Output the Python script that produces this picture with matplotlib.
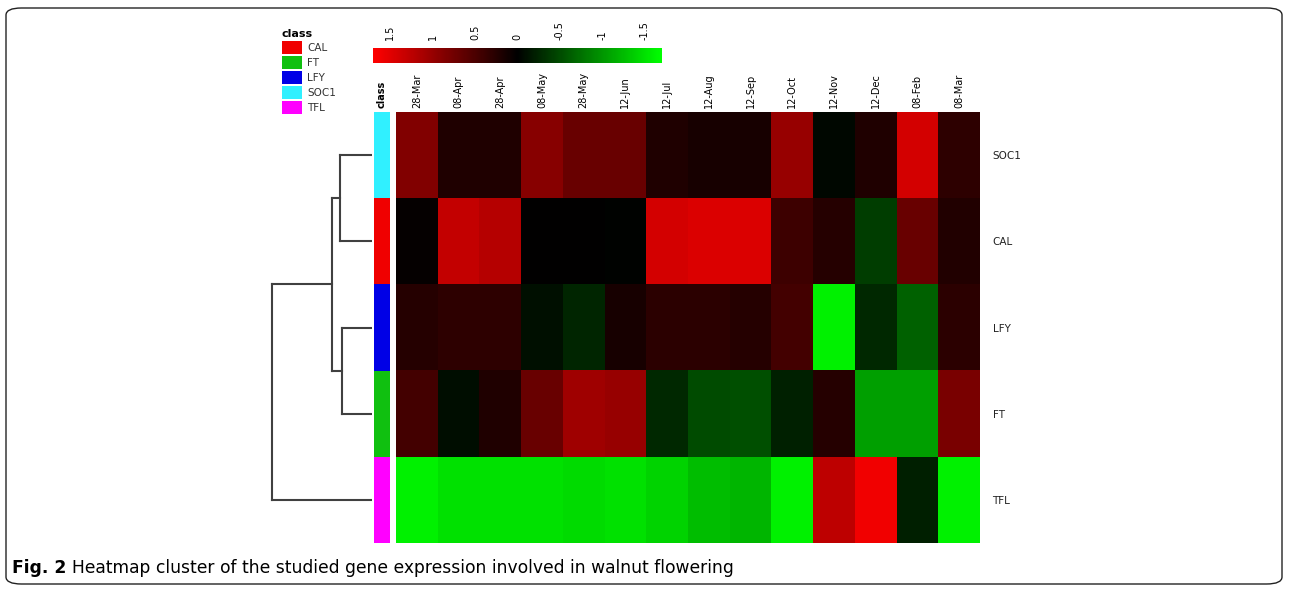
import numpy as np
import matplotlib
matplotlib.use('Agg')
import matplotlib.pyplot as plt
from matplotlib.colors import LinearSegmentedColormap
from matplotlib.patches import Rectangle, FancyBboxPatch

# data (rows already in dendrogram order)
months = ['28-Mar', '08-Apr', '28-Apr', '08-May', '28-May', '12-Jun', '12-Jul',
          '12-Aug', '12-Sep', '12-Oct', '12-Nov', '12-Dec', '08-Feb', '08-Mar']
genes = ['SOC1', 'CAL', 'LFY', 'FT', 'TFL']
soc1 = [0.85, 0.2, 0.2, 0.9, 0.7, 0.7, 0.2, 0.15, 0.15, 1.0, -0.05, 0.2, 1.4, 0.3]
cal = [0.03, 1.3, 1.2, 0.0, 0.0, -0.02, 1.4, 1.45, 1.45, 0.4, 0.25, -0.4, 0.7, 0.22]
lfy = [0.25, 0.3, 0.3, -0.1, -0.25, 0.15, 0.28, 0.28, 0.25, 0.45, -1.6, -0.27, -0.65, 0.28]
ft = [0.45, -0.08, 0.2, 0.7, 1.05, 1.0, -0.27, -0.5, -0.52, -0.22, 0.25, -1.05, -1.05, 0.8]
tfl = [-1.6, -1.5, -1.5, -1.5, -1.45, -1.5, -1.4, -1.25, -1.2, -1.6, 1.25, 1.6, -0.2, -1.6]

# class of each row
gene_class = ['SOC1', 'CAL', 'LFY', 'FT', 'TFL']
class_names = ['CAL', 'FT', 'LFY', 'SOC1', 'TFL']
class_colors = ['#f00000', '#10c010', '#0000e6', '#30f0ff', '#ff00ff']

# hierarchical merges: (a, b, height); ids >= 5 are earlier merges
linkage = [(0, 1, 0.32), (2, 3, 0.30), (5, 6, 0.40), (7, 4, 1.00)]

cbar_ticks = [1.5, 1, 0.5, 0, -0.5, -1, -1.5]

mat = np.array([soc1, cal, lfy, ft, tfl])
cmap = LinearSegmentedColormap.from_list('gbr', ['#00ff00', '#000000', '#ff0000'])
vmin, vmax = -1.7, 1.7

fig = plt.figure(figsize=(12.89, 5.90), dpi=100)
W, H = 1289, 590


def box(x0, y0, x1, y1):
    return [x0 / W, 1 - y1 / H, (x1 - x0) / W, (y1 - y0) / H]


# heatmap
ax = fig.add_axes(box(396, 112, 980, 543))
im = ax.imshow(mat, cmap=cmap, vmin=vmin, vmax=vmax, aspect='auto',
               interpolation='nearest')
ax.set_xticks(np.arange(len(months)))
ax.set_xticklabels(months, rotation=90, fontsize=7)
ax.xaxis.tick_top()
ax.set_yticks(np.arange(len(genes)))
ax.set_yticklabels(genes, fontsize=7.5, color='#222222')
ax.yaxis.tick_right()
ax.tick_params(length=0, pad=3)
ax.tick_params(axis='y', pad=9)
for s in ax.spines.values():
    s.set_visible(False)

# class side bar
axc = fig.add_axes(box(374, 112, 390, 543))
cidx = [class_names.index(c) for c in gene_class]
for i, ci in enumerate(cidx):
    axc.add_patch(Rectangle((0, i - 0.5), 1, 1, color=class_colors[ci], lw=0))
axc.set_xlim(0, 1)
axc.set_ylim(len(genes) - 0.5, -0.5)
axc.set_xticks([0.5])
axc.set_xticklabels(['class'], rotation=90, fontsize=7, fontweight='bold')
axc.xaxis.tick_top()
axc.set_yticks([])
axc.tick_params(length=0, pad=3)
for s in axc.spines.values():
    s.set_visible(False)

# dendrogram
axd = fig.add_axes(box(265, 112, 372, 543))
pos = {i: float(i) for i in range(len(genes))}
hgt = {i: 0.0 for i in range(len(genes))}
for k, (a, b, h) in enumerate(linkage):
    nid = len(genes) + k
    for c in (a, b):
        axd.plot([hgt[c], h], [pos[c], pos[c]], color='#404040', lw=1.5)
    axd.plot([h, h], [pos[a], pos[b]], color='#404040', lw=1.5)
    pos[nid] = (pos[a] + pos[b]) / 2
    hgt[nid] = h
axd.set_xlim(1.07, 0)
axd.set_ylim(len(genes) - 0.5, -0.5)
axd.axis('off')

# colour key
axk = fig.add_axes(box(373, 48, 662, 63))
cb = fig.colorbar(im, cax=axk, orientation='horizontal')
cb.outline.set_visible(False)
axk.invert_xaxis()
axk.xaxis.set_ticks_position('top')
axk.set_xticks(cbar_ticks)
axk.set_xticklabels([f'{t:g}' for t in cbar_ticks], rotation=90, fontsize=7)
axk.tick_params(length=0, pad=6)

# class legend
fig.text(282 / W, 1 - 34 / H, 'class', fontsize=8, fontweight='bold', va='center')
for i, (n, c) in enumerate(zip(class_names, class_colors)):
    y = 41 + i * 15
    fig.patches.append(Rectangle((282 / W, 1 - (y + 13) / H), 20 / W, 13 / H,
                                 color=c, transform=fig.transFigure, lw=0))
    fig.text(307 / W, 1 - (y + 7) / H, n, fontsize=7.5, color='#333333', va='center')

# frame and caption
fig.patches.append(FancyBboxPatch((6 / W, 6 / H), 1276 / W, 576 / H,
                                  boxstyle='round,pad=0,rounding_size=0.012',
                                  transform=fig.transFigure, fill=False,
                                  ec='#222222', lw=1.0))
t1 = fig.text(12 / W, 1 - 568 / H, 'Fig. 2', fontsize=12.3, fontweight='bold', va='center')
ax.annotate('Heatmap cluster of the studied gene expression involved in walnut flowering',
            xy=(1, 0.5), xycoords=t1, xytext=(4, 0), textcoords='offset points',
            fontsize=12.3, va='center', annotation_clip=False)

fig.savefig('out.png', dpi=100)
